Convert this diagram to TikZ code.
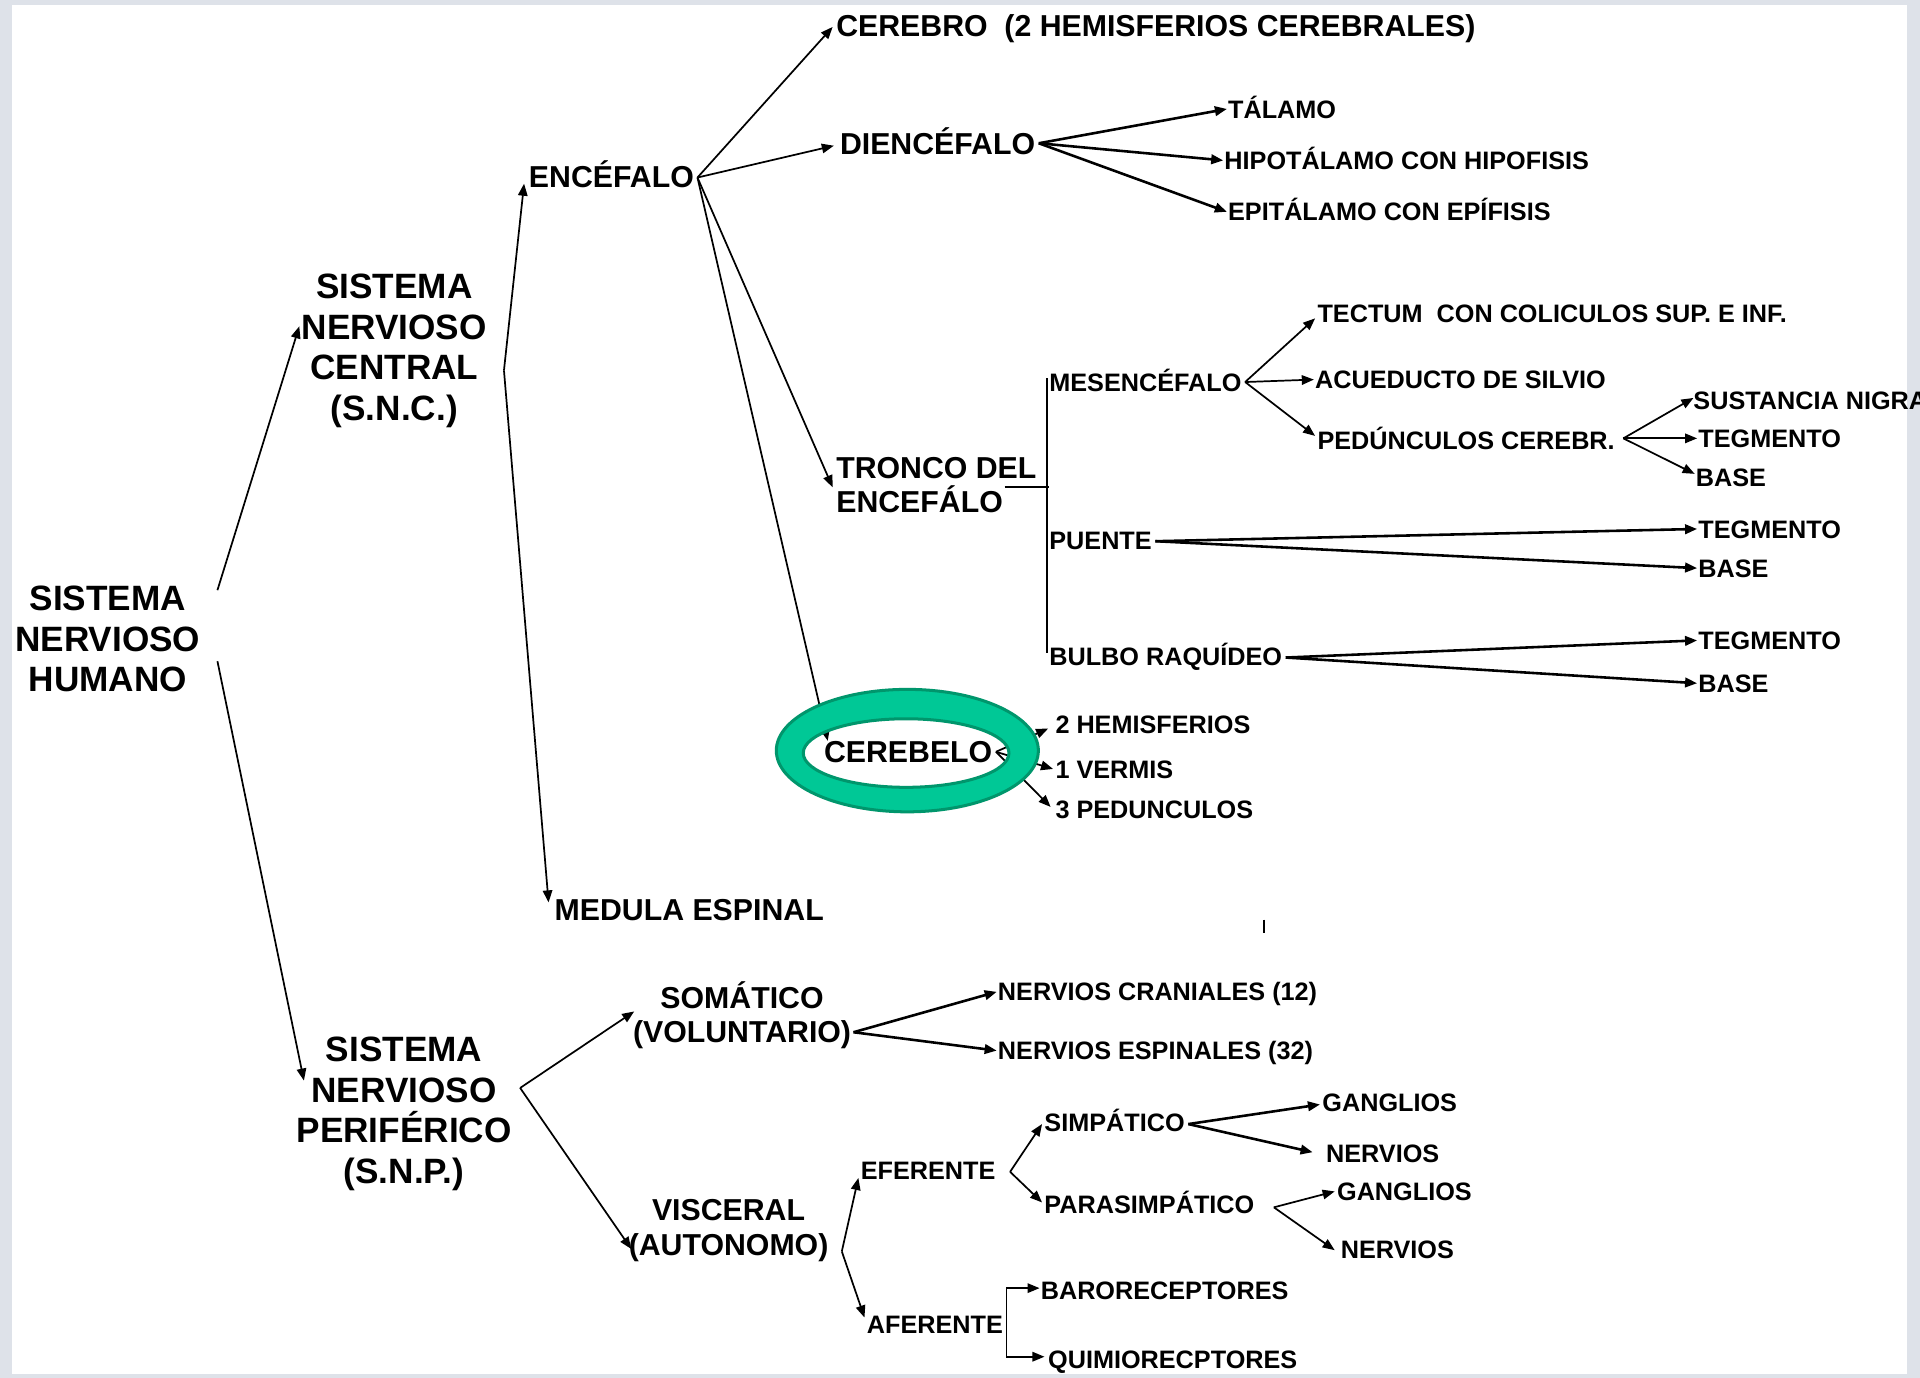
\documentclass[tikz,border=0pt]{standalone}
\usepackage{fontspec}
\setmainfont{Liberation Sans}
\usetikzlibrary{arrows.meta}
\definecolor{ringfill}{RGB}{0,200,150}
\definecolor{ringedge}{RGB}{0,150,108}
\definecolor{framecol}{RGB}{222,226,233}
\begin{document}
\begin{tikzpicture}[x=0.01cm,y=-0.01cm,
  bigt/.style={font=\bfseries\fontsize{8.17}{9.4}\selectfont, inner sep=0pt, outer sep=0pt, align=center},
  medt/.style={font=\bfseries\fontsize{7.03}{8}\selectfont, inner sep=0pt, outer sep=0pt, anchor=west, text height=5.03pt, text depth=0pt},
  medm/.style={font=\bfseries\fontsize{7.03}{7.97}\selectfont, inner sep=0pt, outer sep=0pt},
  smlt/.style={font=\bfseries\fontsize{5.86}{7}\selectfont, inner sep=0pt, outer sep=0pt, anchor=west, text height=4.2pt, text depth=0pt},
  con/.style={draw=black, line width=0.4pt, -{Triangle[length=2.8pt,width=2.2pt]}},
  conb/.style={con, line width=0.6pt},
  ln/.style={draw=black, line width=0.4pt}
]
\useasboundingbox (0,0) rectangle (1568,1125);
\fill[framecol] (0,0) rectangle (1568,1125);
\fill[white] (10,4) rectangle (1557,1122);

% ---- main nodes
\node[bigt] (hum) at (88,522) {SISTEMA\\NERVIOSO\\HUMANO};
\node[bigt] (snc) at (322,286.5) {SISTEMA\\NERVIOSO\\CENTRAL\\(S.N.C.)};
\node[bigt] (snp) at (330,909.5) {SISTEMA\\NERVIOSO\\PERIFÉRICO\\(S.N.P.)};

\node[medt] (enc) at (432,144) {ENCÉFALO};
\node[medt] (cerebro) at (683,21) {CEREBRO~~(2 HEMISFERIOS CEREBRALES)};
\node[medt] (dien) at (686,117) {DIENCÉFALO};
\node[medm, align=left, anchor=west] (tronco) at (683,396) {TRONCO DEL\\ENCEFÁLO};
\node[medt] (cereb) at (673,614) {CEREBELO};
\node[medt] (med) at (453,743) {MEDULA ESPINAL};
\node[medm, align=center] (som) at (606,829) {SOMÁTICO\\(VOLUNTARIO)};
\node[medm, align=center] (visc) at (595,1005) {VISCERAL\\(AUTONOMO)};

% ---- small nodes
\node[smlt] (tal) at (1003,89) {TÁLAMO};
\node[smlt] (hipo) at (1000,131) {HIPOTÁLAMO CON HIPOFISIS};
\node[smlt] (epi) at (1003,173) {EPITÁLAMO CON EPÍFISIS};
\node[smlt] (mes) at (857,312) {MESENCÉFALO};
\node[smlt] (pue) at (857,441) {PUENTE};
\node[smlt] (bul) at (857,536) {BULBO RAQUÍDEO};
\node[smlt] (tec) at (1076,256) {TECTUM~~CON COLICULOS SUP. E INF.};
\node[smlt] (acu) at (1074,310) {ACUEDUCTO DE SILVIO};
\node[smlt] (ped) at (1076,360) {PEDÚNCULOS CEREBR.};
\node[smlt] (sus) at (1383,327) {SUSTANCIA NIGRA};
\node[smlt] (teg1) at (1387,358) {TEGMENTO};
\node[smlt] (base1) at (1385,390) {BASE};
\node[smlt] (teg2) at (1387,432) {TEGMENTO};
\node[smlt] (base2) at (1387,464) {BASE};
\node[smlt] (teg3) at (1387,523) {TEGMENTO};
\node[smlt] (base3) at (1387,558) {BASE};
\node[smlt] (hem) at (862,592) {2 HEMISFERIOS};
\node[smlt] (ver) at (862,628) {1 VERMIS};
\node[smlt] (pedc) at (862,661) {3 PEDUNCULOS};
\node[smlt] (ncr) at (815,810) {NERVIOS CRANIALES (12)};
\node[smlt] (nes) at (815,858) {NERVIOS ESPINALES (32)};
\node[smlt] (efe) at (703,956) {EFERENTE};
\node[smlt] (afe) at (708,1082) {AFERENTE};
\node[smlt] (sim) at (853,917) {SIMPÁTICO};
\node[smlt] (par) at (853,984) {PARASIMPÁTICO};
\node[smlt] (gan1) at (1080,900) {GANGLIOS};
\node[smlt] (ner1) at (1083,942) {NERVIOS};
\node[smlt] (gan2) at (1092,973) {GANGLIOS};
\node[smlt] (ner2) at (1095,1020) {NERVIOS};
\node[smlt] (baro) at (850,1054) {BARORECEPTORES};
\node[smlt] (quim) at (856,1110) {QUIMIORECPTORES};

% ---- junction points
\coordinate (sncx) at ([shift={(14,16)}]snc.east);
\coordinate (encx) at ([shift={(3,1)}]enc.east);
\coordinate (snpx) at ([shift={(7,-21)}]snp.east);
\coordinate (viscx) at ([shift={(11,17)}]visc.east);
\coordinate (tick1) at (1032,751);
\coordinate (tick2) at (1032,762);

% ---- connectors
\draw[con] ([shift={(14,-40)}]hum.east) -- ([shift={(-2,-20)}]snc.west);
\draw[con] ([shift={(14,18)}]hum.east) -- ([shift={(6,-27)}]snp.west);

\draw[con] (sncx) -- ([shift={(-4,6)}]enc.west);
\draw[con] (sncx) -- ([shift={(-5,-6)}]med.west);

\draw[con] (encx) -- ([shift={(-3,1)}]cerebro.west);
\draw[con] (encx) -- ([shift={(-5,2)}]dien.west);
\draw[con] (encx) -- ([shift={(-3,2)}]tronco.west);
\draw[con] (encx) -- ([shift={(3,-9)}]cereb.west);

\draw[conb] ([shift={(3,0)}]dien.east) -- ([shift={(-1,0)}]tal.west);
\draw[conb] ([shift={(3,0)}]dien.east) -- ([shift={(-1,0)}]hipo.west);
\draw[conb] ([shift={(3,0)}]dien.east) -- ([shift={(-1,0)}]epi.west);

\draw[ln] ([shift={(-26,2)}]tronco.east) -- ++(36,0);
\draw[ln] ([shift={(-2,-3)}]mes.west) -- ([shift={(-2,-3)}]bul.west);

\draw[con] ([shift={(3,0)}]mes.east) -- ([shift={(-2,4)}]tec.west);
\draw[con] ([shift={(3,0)}]mes.east) -- ([shift={(-1,0)}]acu.west);
\draw[con] ([shift={(3,0)}]mes.east) -- ([shift={(-2,-4)}]ped.west);

\draw[con] ([shift={(7,-2)}]ped.east) -- ([shift={(0,-2)}]sus.west);
\draw[con] ([shift={(7,-2)}]ped.east) -- ([shift={(-1,0)}]teg1.west);
\draw[con] ([shift={(7,-2)}]ped.east) -- ([shift={(-1,-3)}]base1.west);

\draw[conb] ([shift={(3,1)}]pue.east) -- ([shift={(-1,0)}]teg2.west);
\draw[conb] ([shift={(3,1)}]pue.east) -- ([shift={(-1,0)}]base2.west);
\draw[conb] ([shift={(3,1)}]bul.east) -- ([shift={(-1,0)}]teg3.west);
\draw[conb] ([shift={(3,1)}]bul.east) -- ([shift={(-1,0)}]base3.west);

\draw[con] ([shift={(3,0)}]cereb.east) -- ([shift={(-6,3)}]hem.west);
\draw[con] ([shift={(3,0)}]cereb.east) -- ([shift={(-2,0)}]ver.west);
\draw[con] ([shift={(3,0)}]cereb.east) -- ([shift={(-4,-2)}]pedc.west);

\draw[con] (snpx) -- ([shift={(1,-3)}]som.west);
\draw[con] (snpx) -- ([shift={(2,15)}]visc.west);

\draw[conb] ([shift={(2,14)}]som.east) -- ([shift={(-1,0)}]ncr.west);
\draw[conb] ([shift={(2,14)}]som.east) -- ([shift={(-1,0)}]nes.west);

\draw[con] (viscx) -- ([shift={(-2,6)}]efe.west);
\draw[con] (viscx) -- ([shift={(-2,-6)}]afe.west);

\draw[con] ([shift={(12,1)}]efe.east) -- ([shift={(-2,1)}]sim.west);
\draw[con] ([shift={(12,1)}]efe.east) -- ([shift={(-2,-2)}]par.west);

\draw[conb] ([shift={(3,1)}]sim.east) -- ([shift={(-2,2)}]gan1.west);
\draw[conb] ([shift={(3,1)}]sim.east) -- ([shift={(-11,-1)}]ner1.west);
\draw[con] ([shift={(16,2)}]par.east) -- ([shift={(-2,0)}]gan2.west);
\draw[con] ([shift={(16,2)}]par.east) -- ([shift={(-5,1)}]ner2.west);

\draw[con] ([shift={(3,0)}]afe.east) |- ([shift={(-1,-2)}]baro.west);
\draw[con] ([shift={(3,0)}]afe.east) |- ([shift={(-3,-2)}]quim.west);

\draw[ln] (tick1) -- (tick2);

% ---- green ring over CEREBELO
\fill[ringfill, even odd rule] (741,613) ellipse [x radius=107, y radius=50]
                               (740,615) ellipse [x radius=84, y radius=28];
\draw[ringedge, line width=0.7pt] (741,613) ellipse [x radius=107, y radius=50];
\draw[ringedge, line width=0.7pt] (740,615) ellipse [x radius=84, y radius=28];
\end{tikzpicture}
\end{document}
